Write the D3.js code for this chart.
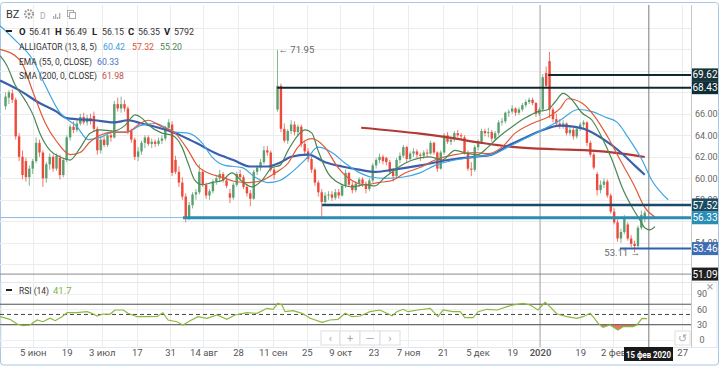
<!DOCTYPE html>
<html lang="ru">
<head>
<meta charset="UTF-8">
<title>BZ</title>
<script src="https://d3js.org/d3.v7.min.js"></script>
<style>
  body { margin: 0; background: #fff; }
  svg { display: block; font-family: Roboto, "Noto Sans", Arial, sans-serif; }
</style>
</head>
<body>
<div id="chart"></div>
<script>
// daily candles, index 0 = 24 May 2019 ... index 188 = 14 Feb 2020
const open = [66.7,67.5,67.9,67.3,63.9,62.0,61.6,60.1,60.9,61.6,63.3,62.4,60.0,61.3,62.0,60.9,61.9,60.3,61.7,63.8,
  64.8,64.5,65.1,65.7,65.2,65.6,65.8,64.6,62.6,63.6,63.1,64.0,63.8,66.9,66.5,66.9,66.5,64.4,63.6,62.0,
  62.5,63.3,63.8,63.2,63.4,63.2,63.5,63.7,64.7,65.0,61.7,60.6,59.6,58.3,56.4,57.5,58.5,58.7,60.6,59.4,
  58.4,58.8,59.7,60.0,60.4,59.8,58.6,58.2,59.4,60.4,60.1,59.2,58.6,58.1,60.6,61.0,61.5,62.6,62.4,60.8,
  66.4,68.6,64.6,63.5,64.4,65.0,64.3,64.8,63.2,62.5,61.8,60.8,59.6,58.7,57.8,58.4,58.5,58.2,58.7,58.4,
  59.3,60.5,59.4,58.9,59.5,59.9,59.5,59.0,59.8,61.2,61.7,62.0,61.9,61.5,60.6,60.2,61.7,62.1,62.9,61.8,
  62.3,62.5,62.2,62.1,62.4,62.3,63.3,62.4,60.9,62.4,64.0,63.4,63.6,64.2,64.0,63.8,62.4,60.9,60.8,62.9,
  63.4,64.4,64.2,64.3,63.7,64.2,65.2,65.3,66.1,66.2,66.5,66.1,66.4,66.8,67.1,67.3,67.0,66.0,66.4,69.8,
  70.9,66.4,65.5,65.1,64.9,65.1,64.2,64.5,63.9,64.6,65.0,65.2,63.3,62.2,60.4,58.9,59.4,59.7,58.4,56.9,
  55.9,54.4,55.0,55.7,54.4,53.9,53.7,55.4,56.4];
const high = [68.0,68.2,68.3,67.5,64.2,62.6,61.9,61.2,61.8,63.8,63.6,62.6,61.5,62.3,62.2,62.3,62.2,61.9,64.0,65.0,
  65.3,65.4,66.0,66.1,65.9,66.0,66.2,64.8,63.9,63.9,64.3,64.5,67.2,67.5,67.6,67.3,66.7,64.6,63.8,62.9,
  63.5,64.0,64.0,63.7,63.6,63.8,64.0,64.9,65.5,65.3,62.1,61.1,60.1,58.6,57.8,58.7,59.0,61.3,60.8,59.6,
  59.0,59.9,60.3,60.8,60.6,60.1,59.0,59.6,60.6,60.8,60.3,59.5,58.9,60.8,61.2,61.8,63.0,63.0,62.6,61.1,
  71.95,68.8,65.1,64.6,65.4,65.3,65.0,65.0,63.5,62.8,62.0,61.0,59.8,59.0,58.7,58.8,58.8,59.0,59.0,59.5,
  60.8,60.6,59.7,59.7,60.1,60.1,59.7,60.0,61.4,61.9,62.3,62.2,62.0,61.7,60.9,61.9,62.4,63.1,63.0,62.5,
  62.8,62.7,62.4,62.6,62.7,63.5,63.4,62.5,62.6,64.2,64.3,63.9,64.4,64.5,64.2,64.0,62.6,61.5,63.1,63.6,
  64.6,64.6,64.7,64.5,64.4,65.4,65.6,66.2,66.4,66.8,66.6,66.6,67.0,67.3,67.5,67.5,67.1,66.6,69.7,70.4,
  71.75,66.6,66.0,65.5,65.4,65.2,64.8,64.7,64.8,65.2,65.4,65.3,63.5,62.4,60.6,59.8,60.0,59.9,58.6,57.2,
  56.2,55.3,56.6,55.9,54.7,54.2,55.6,57.0,57.0];
const low = [66.4,66.9,67.0,63.6,61.6,59.9,59.7,59.3,60.4,61.4,62.0,59.2,59.6,60.8,60.6,60.7,59.9,60.1,61.5,63.5,
  64.2,64.3,64.9,65.0,64.9,65.0,64.3,62.2,62.3,62.9,62.9,63.4,63.7,66.2,66.1,66.2,64.1,63.3,61.7,61.6,
  62.2,62.8,63.0,62.8,62.9,63.0,63.2,63.5,64.4,60.2,60.4,59.2,58.0,55.9,56.1,57.2,58.0,58.5,59.2,58.1,
  58.0,58.6,59.4,59.7,59.6,59.1,57.7,58.0,59.2,59.8,59.0,58.3,57.4,58.0,60.3,60.7,61.3,62.1,60.6,59.9,
  66.2,64.3,63.3,63.2,64.1,64.0,63.9,62.9,62.2,61.5,60.5,59.3,58.3,56.4,57.5,58.0,57.9,58.0,58.1,58.3,
  59.1,59.2,58.6,58.7,59.2,59.2,58.6,58.8,59.6,60.9,61.4,61.3,61.2,60.4,59.7,60.0,61.4,61.9,61.5,61.6,
  62.0,61.9,61.6,61.8,62.0,62.2,62.2,60.6,60.8,62.2,63.2,63.1,63.4,63.8,63.6,62.2,60.7,60.2,60.6,62.6,
  63.2,63.9,63.8,63.4,63.5,64.0,64.9,65.1,65.7,66.0,65.8,65.9,66.2,66.6,66.9,66.8,65.7,65.8,66.2,68.4,
  65.6,65.2,64.8,64.6,64.6,64.0,64.0,63.6,63.7,64.4,64.7,63.0,62.0,60.8,58.4,58.6,59.1,58.2,56.7,55.7,
  54.1,54.0,54.8,54.2,53.6,53.11,53.5,55.2,55.9];
const close = [67.6,68.0,67.3,63.9,62.0,60.3,60.1,60.9,61.6,63.3,62.4,60.0,61.3,62.0,60.9,62.1,60.3,61.7,63.8,64.8,
  64.5,65.1,65.7,65.2,65.6,65.3,64.6,62.6,63.6,63.1,64.0,63.8,66.9,66.5,66.9,66.5,64.4,63.6,62.0,62.5,
  63.3,63.8,63.2,63.4,63.2,63.5,63.7,64.7,65.2,60.5,60.6,59.6,58.3,56.4,57.5,58.5,58.7,60.6,59.4,58.4,
  58.8,59.7,60.0,60.4,59.8,59.3,58.2,59.4,60.4,60.1,59.2,58.6,58.1,60.6,61.0,61.5,62.6,62.4,60.8,60.3,
  68.6,64.6,63.5,64.4,65.0,64.3,64.8,63.2,62.5,61.8,60.8,59.6,58.7,57.8,58.4,58.5,58.2,58.7,58.4,59.3,
  60.5,59.4,58.9,59.5,59.9,59.5,59.0,59.8,61.2,61.7,62.0,61.6,61.5,60.6,60.2,61.7,62.1,62.9,61.8,62.3,
  62.5,62.2,62.1,62.4,62.3,63.3,62.4,60.9,62.4,64.0,63.4,63.6,64.2,64.0,63.9,62.4,60.9,60.8,62.9,63.4,
  64.4,64.2,64.3,63.7,64.2,65.2,65.3,66.1,66.2,66.5,66.1,66.4,66.8,67.1,67.3,67.0,66.0,66.4,69.4,68.6,
  66.4,65.5,65.1,64.9,65.1,64.2,64.5,63.9,64.6,65.0,65.2,63.3,62.2,61.0,58.9,59.4,59.7,58.4,56.9,55.9,
  54.4,55.0,56.3,54.4,53.9,53.7,55.4,56.6,56.8];

// indicator lines: [trading day index, value]
const jaw = [[-1.6,74.2],[3,72.8],[8.1,71.0],[11.6,68.7],[16,66.1],[21,64.8],[24.3,63.6],[27.8,63.8],[31.6,64.3],[35.7,64.3],
  [39.6,64.9],[44,65.1],[49.9,64.3],[53.7,64.2],[57.8,63.3],[60.7,62.0],[64.5,61.2],[69.6,61.0],[73.4,60.1],[77.2,59.6],
  [80.7,59.8],[84.3,60.6],[89,62.0],[91.9,62.9],[96,62.4],[99.9,61.4],[103.7,60.6],[107.8,60.1],[111.6,60.0],[116.6,60.1],
  [121.9,60.5],[126.3,61.2],[132.2,61.7],[138.1,62.0],[143.1,62.2],[147.8,62.9],[152.8,63.7],[157.8,64.5],[163.1,65.4],
  [168.4,66.4],[172.5,66.2],[176.3,65.7],[179.9,65.2],[183.1,63.8],[187.2,61.7],[190.1,59.8],[193,58.6],[194.9,58.0]];
const teeth = [[-1.6,72.0],[4.3,71.0],[8.1,68.0],[11.6,65.2],[15.1,63.4],[19,62.2],[21.9,62.4],[24.9,63.4],[27.8,64.0],[31.6,64.3],
  [35.7,64.3],[39.6,65.1],[41.9,65.4],[46,64.8],[49.9,64.2],[53.7,62.6],[56.6,61.1],[59.6,60.5],[63.7,60.1],[67.5,59.7],
  [71.3,59.6],[75.4,59.8],[79.3,60.5],[83.1,61.4],[86,62.9],[90.1,63.7],[93.9,62.9],[97.8,61.0],[101.9,59.8],[105.7,59.4],
  [109.6,59.6],[113.7,59.8],[117.5,60.5],[121.9,61.0],[126.3,61.7],[132.2,62.2],[138.1,62.4],[141.9,62.3],[146,62.9],
  [149.9,64.2],[154.9,65.1],[159.6,65.7],[163.1,66.5],[165.4,67.4],[169.5,67.0],[173.4,65.7],[177.2,63.8],[181.3,61.4],
  [185.1,59.2],[188,57.3],[191,56.4]];
const lips = [[-1.6,71.4],[0.4,70.5],[2.8,68.7],[5.7,67.3],[8.1,65.9],[10.1,64.2],[13.1,62.6],[16,62.0],[19,61.7],[21.9,62.8],
  [24.9,64.2],[27.8,64.5],[31.6,64.4],[35.1,64.9],[38.1,65.9],[40.1,65.6],[41.9,65.0],[46,64.2],[49,64.0],[51.9,62.9],
  [53.7,61.4],[55.7,59.8],[57.8,59.4],[60.7,59.6],[63.7,59.8],[66.6,60.5],[69.6,59.7],[72.5,59.2],[75.4,59.8],[78.4,61.0],
  [80.7,61.2],[83.1,62.6],[86,64.0],[88.1,64.5],[90.1,64.2],[91.9,62.6],[94.8,60.5],[97.8,59.6],[101.9,59.2],[105.7,59.4],
  [108.7,59.3],[111.6,60.1],[114.6,60.8],[117.5,61.4],[121.9,61.9],[124.9,62.0],[128.4,61.7],[132.2,62.6],[136,62.3],
  [138.9,62.2],[141.9,62.9],[144.9,63.8],[149,64.8],[152.8,65.6],[156.6,66.2],[159.6,66.4],[161.6,67.1],[164,67.9],
  [166.6,67.3],[169.5,66.1],[172.5,65.4],[175.4,63.8],[178.4,61.7],[181.3,59.2],[184.3,57.3],[186.6,56.1],[188,55.4],
  [189.5,55.2],[191,55.5]];
const ema = [[-1.6,69.1],[4,68.2],[10,67.0],[15,66.2],[18,65.6],[26,65.4],[32,65.2],[36,65.4],[40,65.1],[44,64.8],
  [50,64.2],[56,63.3],[62,62.3],[67,61.7],[72,61.1],[77,61.1],[81,61.5],[84,62.0],[89,62.2],[94,61.5],
  [99,61.1],[104,60.8],[109,60.6],[114,60.8],[122,61.2],[130,61.7],[138,62.0],[143,62.2],[147,62.9],[153,63.8],
  [158,64.5],[163,64.9],[167,64.8],[171,64.5],[176,63.6],[181,62.4],[185,61.2],[188,60.33]];
const sma = [[104.6,64.7],[121.9,64.15],[130.1,63.8],[140,63.3],[149.9,62.9],[161.6,62.7],[171.3,62.6],[181.3,62.3],[188,61.98]];
const rsi = [[-1.6,45.6],[1.3,40.5],[3.4,31.3],[5.1,28.0],[7.2,29.4],[9.3,39.1],[11,35.8],[13.1,42.5],[14.6,37.8],[16.6,45.6],
  [18.1,53.4],[21,53.4],[24,55.4],[25.4,52.2],[26.9,47.0],[28.7,50.9],[30.7,50.3],[32.2,58.7],[34.6,58.7],[36,52.2],
  [38.7,45.6],[41.6,45.6],[44.6,46.0],[46.3,53.4],[47.8,39.1],[50.4,35.8],[52.2,29.4],[54.3,37.8],[56.6,45.6],[59.3,42.5],
  [62.2,48.9],[65.1,40.5],[67.5,48.9],[71,53.4],[74,52.2],[76.9,62.0],[78.7,60.1],[80.1,71.8],[81.3,68.5],[82.2,55.4],
  [84.6,57.3],[87.2,52.2],[89.6,42.5],[93.1,34.6],[95.4,39.1],[97.8,40.5],[99.9,52.2],[101.9,45.6],[104.3,47.0],[107.2,55.4],
  [110.1,58.7],[113.7,47.6],[115.1,55.4],[116.9,60.1],[118.4,55.4],[121.3,58.7],[124.9,62.0],[127.2,45.6],[128.7,58.7],[131.6,55.4],
  [133.7,55.4],[135.1,43.6],[137.5,43.6],[139,55.4],[141.6,60.1],[144.6,58.7],[147.5,65.2],[149.3,68.5],[152.2,71.8],[154.3,68.5],
  [156.6,58.7],[158.7,73.8],[160.1,65.2],[162.2,50.9],[165.1,45.6],[168,42.5],[169.9,45.6],[171.9,52.2],[172.8,45.6],[174.3,32.6],
  [175.7,24.8],[177.8,29.4],[180.1,19.6],[181.6,26.1],[184.5,26.1],[185.7,29.4],[187.2,42.5],[188.7,41.7]];

// axes
const tickIdx = [8,18,28.3,38.6,48.4,58.2,68.4,78.6,88.6,98.4,108.2,118.4,128.6,138.8,149,157.2,169,178.7,199];
const tickLabels = ["5 июн","19","3 июл","17","31","14 авг","28","11 сен","25","9 окт","23","7 ноя","21","5 дек","19","2020","19","2 фев","27"];
const gridPrices = [52,54,56,58,60,62,64,66,68,70,72,74];
const priceLabels = [54,58,60,62,64,66];
const rsiTicks = [0,30,60,90];

// drawn levels
const levelPrice = [69.62, 68.43, 57.52, 56.33, 53.46];
const levelFrom = [159.6, 79.9, 93.1, 52.2, 180.7];
const levelColor = ["#13292e", "#0e2730", "#1b4a66", "#2a8db4", "#2f61ab"];
const levelBox = ["#17343a", "#0f2d36", "#1b4b62", "#2a8db4", "#3e6db5"];
const levelWidth = [2, 2, 2.5, 3, 2];
const lastPrice = 56.35;
const crossIdx = 189.2, crossPrice = 51.09, yearIdx = 157.2;

const W = 720, H = 366;
const plotL = 0, plotR = 691, mainTop = 5, mainBot = 279, rsiTop = 283, rsiBot = 347;

const svg = d3.select("#chart").append("svg").attr("width", W).attr("height", H);
const defs = svg.append("defs");
defs.append("clipPath").attr("id", "clipMain").append("rect")
  .attr("x", plotL).attr("y", mainTop).attr("width", plotR - plotL).attr("height", mainBot - mainTop);
defs.append("clipPath").attr("id", "clipRsi").append("rect")
  .attr("x", plotL).attr("y", rsiTop).attr("width", plotR - plotL).attr("height", rsiBot - rsiTop);

const x = d3.scaleLinear().domain([-1.62, 201.6]).range([0, 691]);
const y = d3.scaleLinear().domain([50, 76]).range([285.8, 6.3]);
const yR = d3.scaleLinear().domain([0, 90]).range([340, 294]);

// frame
svg.append("rect").attr("x", 0.5).attr("y", 2.5).attr("width", W - 2).attr("height", H - 3.5)
  .attr("rx", 3).attr("fill", "#fff").attr("stroke", "#a9c7e6");

// grid
const grid = svg.append("g");
grid.selectAll(".vg").data(tickIdx).join("line")
  .attr("x1", d => Math.round(x(d)) + 0.5).attr("x2", d => Math.round(x(d)) + 0.5)
  .attr("y1", mainTop).attr("y2", rsiBot).attr("stroke", "#ececec");
grid.selectAll(".hg").data(gridPrices).join("line")
  .attr("x1", plotL).attr("x2", plotR)
  .attr("y1", d => Math.round(y(d)) + 0.5).attr("y2", d => Math.round(y(d)) + 0.5)
  .attr("stroke", "#ececec");
grid.selectAll(".rg").data(rsiTicks).join("line")
  .attr("x1", plotL).attr("x2", plotR)
  .attr("y1", d => Math.round(yR(d)) + 0.5).attr("y2", d => Math.round(yR(d)) + 0.5)
  .attr("stroke", "#f0f0f0");

// panel separators
svg.append("line").attr("x1", plotR + 0.5).attr("x2", plotR + 0.5).attr("y1", mainTop).attr("y2", rsiBot).attr("stroke", "#c8c8c8");
svg.append("rect").attr("x", 1).attr("y", rsiTop - 0.5).attr("width", 716).attr("height", rsiBot - rsiTop + 1)
  .attr("fill", "none").attr("stroke", "#dfe8f0");

// year and crosshair verticals
svg.append("line").attr("x1", x(yearIdx)).attr("x2", x(yearIdx)).attr("y1", mainTop).attr("y2", rsiBot)
  .attr("stroke", "#a8a8a8");
svg.append("line").attr("x1", x(crossIdx)).attr("x2", x(crossIdx)).attr("y1", mainTop).attr("y2", rsiBot)
  .attr("stroke", "#7a7a7a");

const main = svg.append("g").attr("clip-path", "url(#clipMain)");

// last price line
main.append("line").attr("x1", plotL).attr("x2", plotR).attr("y1", y(lastPrice)).attr("y2", y(lastPrice))
  .attr("stroke", "#8fbbe3").attr("stroke-width", 1);

// candles
const idx = d3.range(close.length);
const up = "#5a9e6e", down = "#ee4a3b";
main.append("g").selectAll("line").data(idx).join("line")
  .attr("x1", i => x(i)).attr("x2", i => x(i))
  .attr("y1", i => y(high[i])).attr("y2", i => y(low[i]))
  .attr("stroke", i => close[i] >= open[i] ? up : down).attr("stroke-opacity", 0.75);
main.append("g").selectAll("rect").data(idx).join("rect")
  .attr("x", i => x(i) - 1.2).attr("width", 2.4)
  .attr("y", i => y(Math.max(open[i], close[i])))
  .attr("height", i => Math.max(1, Math.abs(y(open[i]) - y(close[i]))))
  .attr("fill", i => close[i] >= open[i] ? up : down);

// indicator lines
const line = d3.line().x(d => x(d[0])).y(d => y(d[1])).curve(d3.curveMonotoneX);
main.append("path").datum(sma).attr("d", line).attr("fill", "none").attr("stroke", "#b23a35").attr("stroke-width", 2.2);
main.append("path").datum(ema).attr("d", line).attr("fill", "none").attr("stroke", "#3a60ad").attr("stroke-width", 2.2);
main.append("path").datum(jaw).attr("d", line).attr("fill", "none").attr("stroke", "#3fa6e2").attr("stroke-width", 1.2);
main.append("path").datum(teeth).attr("d", line).attr("fill", "none").attr("stroke", "#df5a38").attr("stroke-width", 1.2);
main.append("path").datum(lips).attr("d", line).attr("fill", "none").attr("stroke", "#4b8652").attr("stroke-width", 1.2);

// drawn level lines
levelPrice.forEach((p, k) => {
  main.append("line").attr("x1", x(levelFrom[k])).attr("x2", plotR).attr("y1", y(p)).attr("y2", y(p))
    .attr("stroke", levelColor[k]).attr("stroke-width", levelWidth[k]);
});

// crosshair horizontal
svg.append("line").attr("x1", plotL).attr("x2", plotR).attr("y1", y(crossPrice)).attr("y2", y(crossPrice))
  .attr("stroke", "#8a8a8a");

// min/max notes
svg.append("text").attr("x", x(80) + 1).attr("y", y(71.95) + 3.5).attr("font-size", 9.5).attr("fill", "#666")
  .text("← 71.95");
svg.append("text").attr("x", x(185) + 5.5).attr("y", y(53.11) + 4).attr("text-anchor", "end")
  .attr("font-size", 9.5).attr("fill", "#666").text("53.11 →");

// right price axis (labels under the level boxes are hidden as in the original)
svg.append("g").selectAll("text").data(priceLabels).join("text")
  .attr("x", 695).attr("y", d => y(d) + 3.2).attr("font-size", 9).attr("fill", "#666")
  .text(d => d.toFixed(2));
const boxes = levelPrice.concat([crossPrice]);
const boxCol = levelBox.concat(["#1f1f1f"]);
boxes.forEach((p, k) => {
  svg.append("rect").attr("x", 692).attr("y", y(p) - 6.5).attr("width", 26).attr("height", 13).attr("fill", boxCol[k]);
  svg.append("text").attr("x", 705).attr("y", y(p) + 3.6).attr("text-anchor", "middle")
    .attr("font-size", 10).attr("fill", "#fff").text(p.toFixed(2));
});

// RSI panel
const rsiG = svg.append("g").attr("clip-path", "url(#clipRsi)");
const rLine = d3.line().x(d => x(d[0])).y(d => yR(d[1]));
const rArea = lvl => d3.area().x(d => x(d[0])).y0(yR(lvl)).y1(d => yR(d[1]));
defs.append("clipPath").attr("id", "belowLo").append("rect")
  .attr("x", plotL).attr("y", yR(30)).attr("width", plotR).attr("height", rsiBot - yR(30));
defs.append("clipPath").attr("id", "aboveHi").append("rect")
  .attr("x", plotL).attr("y", rsiTop).attr("width", plotR).attr("height", yR(70) - rsiTop);
rsiG.append("path").datum(rsi).attr("d", rArea(30)).attr("fill", "#f1705f").attr("clip-path", "url(#belowLo)");
rsiG.append("path").datum(rsi).attr("d", rArea(70)).attr("fill", "#3cc246").attr("clip-path", "url(#aboveHi)");
[70, 30].forEach(v => rsiG.append("line").attr("x1", plotL).attr("x2", plotR)
  .attr("y1", yR(v)).attr("y2", yR(v)).attr("stroke", "#555"));
rsiG.append("line").attr("x1", plotL).attr("x2", plotR).attr("y1", yR(50)).attr("y2", yR(50))
  .attr("stroke", "#444").attr("stroke-dasharray", "4,3");
rsiG.append("path").datum(rsi).attr("d", rLine).attr("fill", "none").attr("stroke", "#8db83f").attr("stroke-width", 1.2);
svg.append("g").selectAll("text").data(rsiTicks).join("text")
  .attr("x", 702).attr("y", d => yR(d) + 3.2).attr("text-anchor", "middle").attr("font-size", 9).attr("fill", "#666")
  .text(d => d);
svg.append("text").attr("x", 710).attr("y", 291).attr("text-anchor", "middle").attr("font-size", 13).attr("fill", "#aaa").text("×");

// nav buttons
function btn(x0, w, glyph) {
  svg.append("rect").attr("x", x0).attr("y", 331).attr("width", w).attr("height", 14)
    .attr("fill", "#fff").attr("stroke", "#dedede");
  svg.append("text").attr("x", x0 + w / 2).attr("y", 342).attr("text-anchor", "middle")
    .attr("font-size", 11).attr("fill", "#aaa").text(glyph);
}
btn(321, 19, "‹"); btn(340, 20, "+"); btn(360, 20, "—"); btn(380, 20, "›"); btn(675, 15, "↺");

// bottom axis
const xAxis = d3.axisBottom(x).tickValues(tickIdx).tickSize(0).tickPadding(0)
  .tickFormat((d, i) => tickLabels[i]);
const ax = svg.append("g").attr("transform", "translate(0,349)").call(xAxis);
ax.select(".domain").remove();
ax.selectAll("text").attr("font-size", 9.5).attr("fill", "#555").attr("dy", "0.71em")
  .attr("font-weight", (d, i) => tickLabels[i] === "2020" ? 600 : 400)
  .attr("font-family", "Roboto, 'Noto Sans', sans-serif");

// crosshair date label
svg.append("rect").attr("x", 624).attr("y", 347).attr("width", 49).attr("height", 14).attr("fill", "#1a1a1a");
svg.append("text").attr("x", 648.5).attr("y", 357.5).attr("text-anchor", "middle").attr("font-size", 9.5)
  .attr("font-weight", 700).attr("fill", "#fff").attr("textLength", 45).attr("lengthAdjust", "spacingAndGlyphs")
  .text("15 фев 2020");

// header and legend
svg.append("text").attr("x", 6).attr("y", 18).attr("font-size", 11).attr("fill", "#333").text("BZ");
const gear = svg.append("g").attr("transform", "translate(29,14)");
gear.append("circle").attr("r", 4).attr("fill", "none").attr("stroke", "#999").attr("stroke-width", 2.2).attr("stroke-dasharray", "1.6,1.2");
gear.append("circle").attr("r", 1.5).attr("fill", "#999");
svg.append("text").attr("x", 40).attr("y", 19).attr("font-size", 8.5).attr("fill", "#aaa").text("D");
[[53,3],[55,5],[57,2],[59,6]].forEach(b => svg.append("rect").attr("x", b[0]).attr("y", 19 - b[1]).attr("width", 1.3).attr("height", b[1]).attr("fill", "#aaa"));
svg.append("rect").attr("x", 67.5).attr("y", 10.5).attr("width", 6).attr("height", 6).attr("fill", "none").attr("stroke", "#aaa");
svg.append("rect").attr("x", 69.5).attr("y", 12.5).attr("width", 6).attr("height", 6).attr("fill", "#fff").attr("stroke", "#aaa");

svg.append("rect").attr("x", 6).attr("y", 30).attr("width", 6).attr("height", 2).attr("fill", "#222");
const ohlcKeys = ["O","H","L","C","V"], ohlcVals = ["56.41","56.49","56.15","56.35","5792"];
const keyX = [19, 55, 92, 128, 164];
ohlcKeys.forEach((k, j) => {
  svg.append("text").attr("x", keyX[j]).attr("y", 35).attr("font-size", 9.5).attr("font-weight", 700).attr("fill", "#222").text(k);
  svg.append("text").attr("x", keyX[j] + 10).attr("y", 35).attr("font-size", 9.5).attr("fill", "#333")
    .attr("textLength", ohlcVals[j].length === 4 ? 20 : 22).attr("lengthAdjust", "spacingAndGlyphs").text(ohlcVals[j]);
});
function legend(yy, label, len, vals) {
  svg.append("text").attr("x", 19).attr("y", yy).attr("font-size", 9.5).attr("fill", "#333")
    .attr("textLength", len).attr("lengthAdjust", "spacingAndGlyphs").text(label);
  vals.forEach(v => svg.append("text").attr("x", v[0]).attr("y", yy).attr("font-size", 9.5).attr("fill", v[2])
    .attr("textLength", 22).attr("lengthAdjust", "spacingAndGlyphs").text(v[1]));
}
legend(50, "ALLIGATOR (13, 8, 5)", 78, [[103, "60.42", "#3a9ee0"], [132, "57.32", "#dc4f36"], [160, "55.20", "#4b8652"]]);
legend(65, "EMA (55, 0, CLOSE)", 73, [[97, "60.33", "#4a73c2"]]);
legend(79, "SMA (200, 0, CLOSE)", 78, [[102, "61.98", "#c25050"]]);

svg.append("rect").attr("x", 6).attr("y", 289).attr("width", 6).attr("height", 2).attr("fill", "#222");
svg.append("text").attr("x", 19).attr("y", 294).attr("font-size", 9.5).attr("fill", "#333")
  .attr("textLength", 30).attr("lengthAdjust", "spacingAndGlyphs").text("RSI (14)");
svg.append("text").attr("x", 53).attr("y", 294).attr("font-size", 9.5).attr("fill", "#7cb342").text("41.7");
</script>
</body>
</html>
